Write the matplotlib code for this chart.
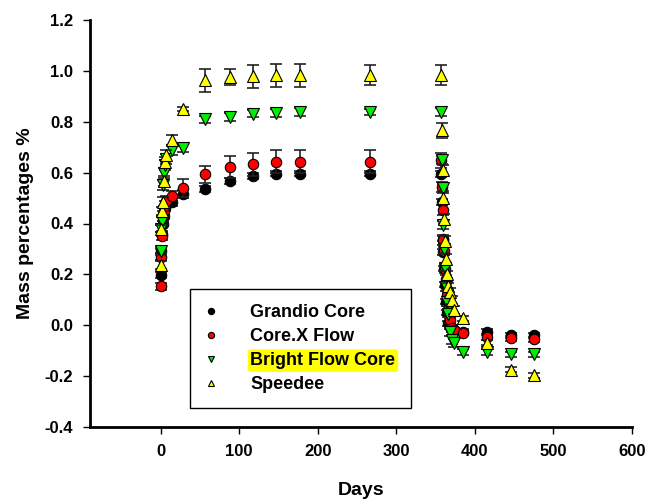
import matplotlib
matplotlib.use('Agg')
import matplotlib.pyplot as plt

plt.rcParams['font.family'] = ['Liberation Sans', 'DejaVu Sans']
plt.rcParams['font.weight'] = 'bold'

days = [0, 1, 2, 3, 4, 5, 7, 14, 28, 56, 88, 118, 147, 177, 267, 357,
        358, 359, 360, 361, 362, 363, 364, 366, 368, 371, 374, 385, 416, 446, 475]

grandio = [0.197, 0.29, 0.36, 0.40, 0.43, 0.46, 0.48, 0.485, 0.515, 0.537, 0.567, 0.586, 0.595, 0.595, 0.596, 0.596,
           0.485, 0.34, 0.288, 0.223, 0.16, 0.092, 0.05, 0.007, -0.005, -0.015, -0.02, -0.025, -0.026, -0.039, -0.039]
corex = [0.153, 0.27, 0.35, 0.43, 0.45, 0.47, 0.49, 0.507, 0.541, 0.593, 0.622, 0.633, 0.643, 0.643, 0.643, 0.649,
         0.544, 0.455, 0.334, 0.292, 0.22, 0.183, 0.12, 0.059, 0.02, -0.01, -0.02, -0.03, -0.048, -0.052, -0.056]
bright = [0.292, 0.38, 0.41, 0.55, 0.60, 0.63, 0.655, 0.69, 0.698, 0.809, 0.819, 0.832, 0.835, 0.838, 0.838, 0.838,
          0.649, 0.541, 0.393, 0.30, 0.227, 0.15, 0.09, 0.046, -0.026, -0.059, -0.07, -0.105, -0.105, -0.114, -0.114]
speedee = [0.236, 0.38, 0.45, 0.485, 0.567, 0.64, 0.668, 0.727, 0.849, 0.963, 0.976, 0.979, 0.983, 0.983, 0.983, 0.985,
           0.766, 0.609, 0.50, 0.419, 0.33, 0.262, 0.2, 0.153, 0.131, 0.10, 0.06, 0.027, -0.069, -0.174, -0.197]

# standard deviations
grandio_err = [0.012, 0.01, 0.01, 0.01, 0.012, 0.01, 0.01, 0.015, 0.015, 0.012, 0.01, 0.012, 0.01, 0.01, 0.01, 0.012,
               0.012, 0.01, 0.01, 0.01, 0.01, 0.01, 0.01, 0.01, 0.01, 0.01, 0.01, 0.01, 0.01, 0.01, 0.01]
corex_err = [0.015, 0.015, 0.015, 0.02, 0.02, 0.02, 0.02, 0.02, 0.035, 0.035, 0.045, 0.045, 0.045, 0.045, 0.045, 0.03,
             0.02, 0.02, 0.02, 0.015, 0.015, 0.015, 0.015, 0.015, 0.01, 0.01, 0.01, 0.01, 0.01, 0.01, 0.01]
bright_err = [0.015, 0.015, 0.015, 0.02, 0.02, 0.02, 0.02, 0.02, 0.015, 0.015, 0.015, 0.015, 0.015, 0.015, 0.012, 0.015,
              0.015, 0.015, 0.015, 0.015, 0.015, 0.015, 0.015, 0.015, 0.015, 0.015, 0.015, 0.01, 0.01, 0.01, 0.01]
speedee_err = [0.015, 0.015, 0.015, 0.02, 0.02, 0.02, 0.02, 0.02, 0.008, 0.045, 0.03, 0.045, 0.045, 0.045, 0.04, 0.04,
               0.03, 0.02, 0.02, 0.02, 0.02, 0.02, 0.015, 0.015, 0.015, 0.015, 0.015, 0.01, 0.01, 0.01, 0.01]

labels = ['Grandio Core', 'Core.X Flow', 'Bright Flow Core', 'Speedee']

fig = plt.figure(figsize=(6.63, 4.99), dpi=100)
ax = fig.add_axes([90 / 663, 1 - 427 / 499, 542 / 663, 407 / 499])

series = [
    (grandio, grandio_err, 'o', 'black', 7.5),
    (corex, corex_err, 'o', 'red', 7.5),
    (bright, bright_err, 'v', '#00ee00', 8),
    (speedee, speedee_err, '^', 'yellow', 8),
]
handles = []
for i, (vals, err, mk, col, ms) in enumerate(series):
    ax.errorbar(days, vals, yerr=err, fmt='none', ecolor='#222222', elinewidth=1.2,
                capsize=4, capthick=1.2, zorder=2 + 2 * i)
    h, = ax.plot(days, vals, linestyle='none', marker=mk, markersize=ms,
                 markerfacecolor=col, markeredgecolor='black', markeredgewidth=0.8,
                 zorder=3 + 2 * i, label=labels[i])
    handles.append(h)

ax.set_xlim(-90, 600)
ax.set_ylim(-0.4, 1.2)
ax.set_xticks([0, 100, 200, 300, 400, 500, 600])
ax.set_yticks([-0.4, -0.2, 0.0, 0.2, 0.4, 0.6, 0.8, 1.0, 1.2])
ax.set_yticklabels(['%.1f' % v for v in ax.get_yticks()])

ax.spines['top'].set_visible(False)
ax.spines['right'].set_visible(False)
ax.spines['left'].set_linewidth(2)
ax.spines['bottom'].set_linewidth(2)
ax.tick_params(axis='both', direction='out', length=5, width=1, labelsize=12)
ax.tick_params(axis='x', pad=7)
ax.tick_params(axis='y', pad=7)

ax.set_xlabel('Days', fontsize=14, fontweight='bold', labelpad=17)
ax.set_ylabel('Mass percentages %', fontsize=14, fontweight='bold', labelpad=8)

leg = fig.legend(handles=handles, loc='upper left', bbox_to_anchor=(190 / 663, 1 - 289 / 499),
                 bbox_transform=fig.transFigure, fancybox=False, edgecolor='black',
                 framealpha=1, fontsize=13, markerscale=0.6, handlelength=0.6,
                 handletextpad=1.9, borderpad=0.85, labelspacing=0.38, borderaxespad=0)
leg.get_frame().set_linewidth(1)
for t in leg.get_texts():
    t.set_fontweight('bold')
leg.get_texts()[2].set_bbox(dict(facecolor='yellow', edgecolor='none', pad=1.5,
                                 boxstyle='round,pad=0.15'))

fig.savefig('out.png', dpi=100)
